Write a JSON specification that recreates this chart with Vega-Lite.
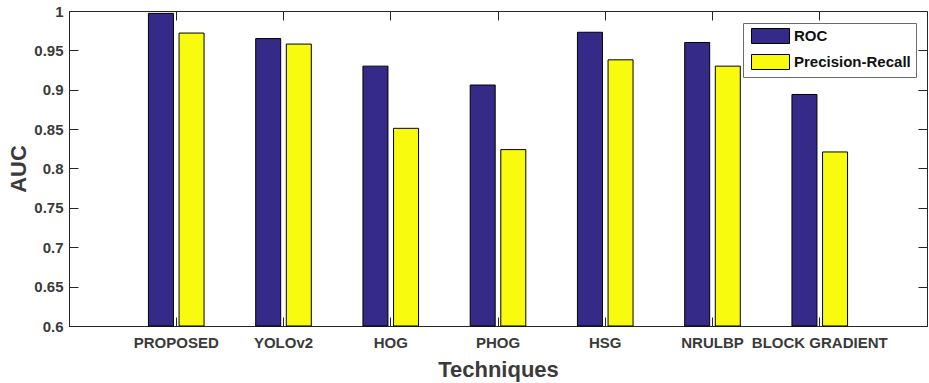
{
  "$schema": "https://vega.github.io/schema/vega-lite/v6.json",
  "width": 858,
  "height": 315,
  "autosize": {"type": "none"},
  "padding": {"left": 69, "top": 11, "right": 2, "bottom": 57},
  "background": "white",
  "config": {
    "font": "Liberation Sans",
    "view": {"stroke": "#262626", "strokeWidth": 1},
    "axis": {
      "labelFont": "Liberation Sans",
      "labelFontWeight": "bold",
      "labelFontSize": 15,
      "labelColor": "#3a3a3a",
      "titleFont": "Liberation Sans",
      "titleFontWeight": "bold",
      "titleFontSize": 22,
      "titleColor": "#3a3a3a",
      "domainColor": "#262626",
      "tickColor": "#262626",
      "grid": false,
      "tickSize": -9
    }
  },
  "data": {
    "values": [
      {"technique": "PROPOSED", "metric": "ROC", "auc": 0.997},
      {"technique": "PROPOSED", "metric": "Precision-Recall", "auc": 0.972},
      {"technique": "YOLOv2", "metric": "ROC", "auc": 0.965},
      {"technique": "YOLOv2", "metric": "Precision-Recall", "auc": 0.958},
      {"technique": "HOG", "metric": "ROC", "auc": 0.930},
      {"technique": "HOG", "metric": "Precision-Recall", "auc": 0.851},
      {"technique": "PHOG", "metric": "ROC", "auc": 0.906},
      {"technique": "PHOG", "metric": "Precision-Recall", "auc": 0.824},
      {"technique": "HSG", "metric": "ROC", "auc": 0.973},
      {"technique": "HSG", "metric": "Precision-Recall", "auc": 0.938},
      {"technique": "NRULBP", "metric": "ROC", "auc": 0.960},
      {"technique": "NRULBP", "metric": "Precision-Recall", "auc": 0.930},
      {"technique": "BLOCK GRADIENT", "metric": "ROC", "auc": 0.894},
      {"technique": "BLOCK GRADIENT", "metric": "Precision-Recall", "auc": 0.821}
    ]
  },
  "layer": [
    {
      "mark": {"type": "bar", "stroke": "#000000", "strokeWidth": 1},
      "encoding": {
        "x": {
          "field": "technique",
          "type": "nominal",
          "sort": null,
          "scale": {"paddingInner": 0, "paddingOuter": 0.5},
          "axis": {
            "orient": "bottom",
            "title": "Techniques",
            "labelAngle": 0,
            "labelPadding": 18,
            "labelOverlap": false,
            "labelBound": false,
            "labelLimit": 300,
            "titlePadding": 9
          }
        },
        "xOffset": {
          "field": "metric",
          "type": "nominal",
          "sort": ["ROC", "Precision-Recall"],
          "scale": {"paddingInner": 0.183, "paddingOuter": 0.844}
        },
        "y": {
          "field": "auc",
          "type": "quantitative",
          "scale": {"domain": [0.6, 1], "zero": false, "nice": false},
          "axis": {
            "orient": "left",
            "title": "AUC",
            "values": [0.6, 0.65, 0.7, 0.75, 0.8, 0.85, 0.9, 0.95, 1],
            "format": ".2~f",
            "labelPadding": 15,
            "titlePadding": 3
          }
        },
        "y2": {"datum": 0.6},
        "color": {
          "field": "metric",
          "type": "nominal",
          "sort": ["ROC", "Precision-Recall"],
          "scale": {"domain": ["ROC", "Precision-Recall"], "range": ["#352A87", "#F9FB0E"]},
          "legend": {
            "title": null,
            "orient": "none",
            "legendX": 674,
            "legendY": 12,
            "padding": 5,
            "strokeColor": "#6b6b6b",
            "fillColor": "white",
            "symbolType": "M-1,-1H4.07V1H-1Z",
            "symbolSize": 225,
            "symbolStrokeColor": "#000000",
            "symbolStrokeWidth": 1,
            "symbolOpacity": 1,
            "symbolOffset": 3,
            "labelOffset": 27,
            "labelFont": "Liberation Sans",
            "labelFontWeight": "bold",
            "labelFontSize": 15,
            "labelColor": "#111111",
            "rowPadding": 6
          }
        }
      }
    },
    {
      "mark": {"type": "point", "opacity": 0},
      "encoding": {
        "x": {
          "field": "technique",
          "type": "nominal",
          "sort": null,
          "axis": {"orient": "top", "title": null, "labels": false, "domain": false}
        },
        "y": {
          "field": "auc",
          "type": "quantitative",
          "axis": {
            "orient": "right",
            "title": null,
            "labels": false,
            "domain": false,
            "values": [0.6, 0.65, 0.7, 0.75, 0.8, 0.85, 0.9, 0.95, 1]
          }
        }
      }
    }
  ],
  "resolve": {"axis": {"x": "independent", "y": "independent"}}
}
